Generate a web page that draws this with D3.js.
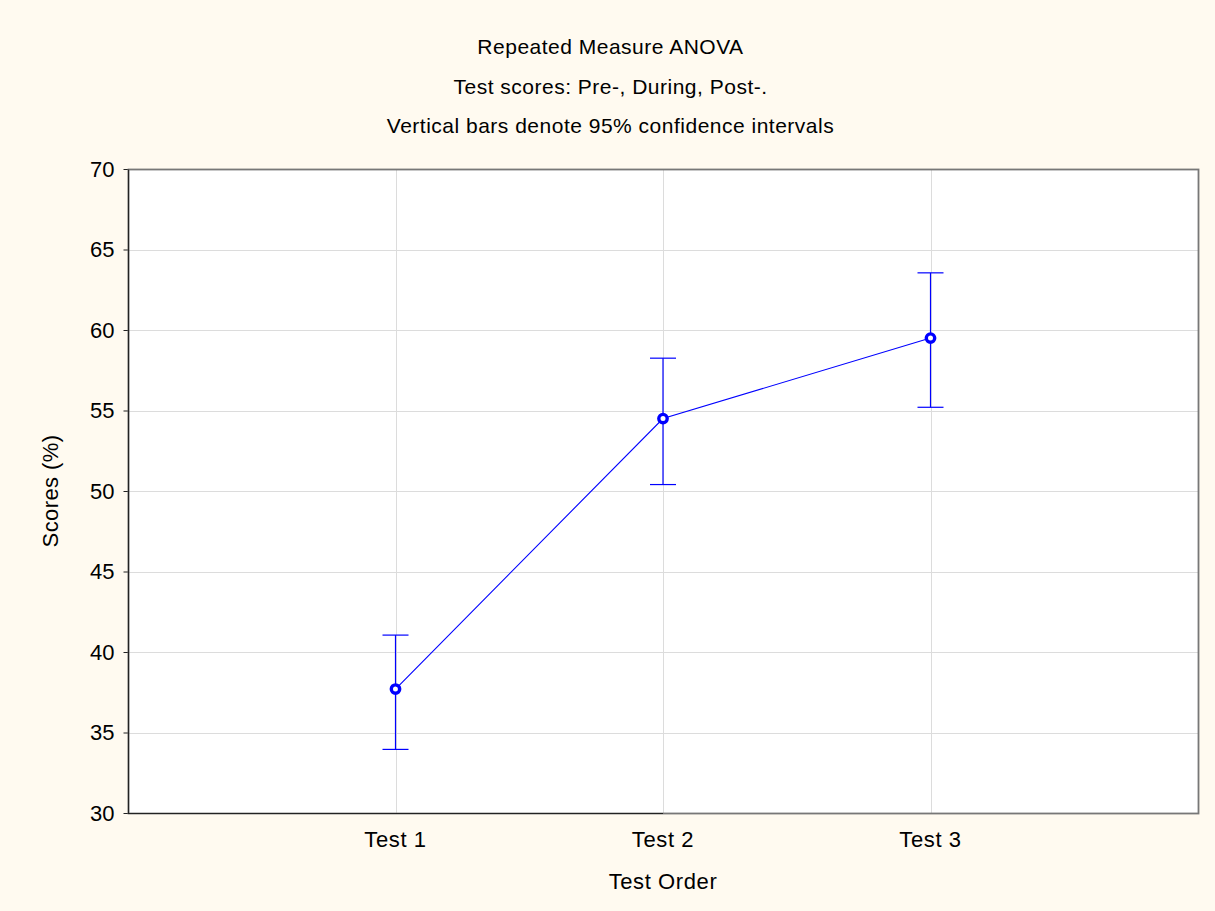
<!DOCTYPE html>
<html>
<head>
<meta charset="utf-8">
<script src="https://cdn.jsdelivr.net/npm/d3@7"></script>
<style>
  body { margin: 0; background: #fffaf0; }
  svg { display: block; }
</style>
</head>
<body>
<script>
// Chart data
const categories = ['Test 1', 'Test 2', 'Test 3'];
const means = [37.7, 54.5, 59.5];
const lowerCI = [33.95, 50.4, 55.2];
const upperCI = [41.05, 58.25, 63.55];
const yTicks = [30, 35, 40, 45, 50, 55, 60, 65, 70];
const titleLines = [
  'Repeated Measure ANOVA',
  'Test scores: Pre-, During, Post-.',
  'Vertical bars denote 95% confidence intervals'
];

const width = 1215, height = 911;
const margin = { top: 169, right: 17, bottom: 98, left: 128 };
const plotW = width - margin.left - margin.right;
const plotH = height - margin.top - margin.bottom;
const font = '"Liberation Sans", Arial, sans-serif';

const svg = d3.select('body').append('svg')
  .attr('width', width)
  .attr('height', height)
  .style('font-family', font);

svg.append('rect').attr('width', width).attr('height', height).attr('fill', '#fffaf0');

// Scales: categories sit at 1, 2, 3 on a 0..4 axis
const x = d3.scaleLinear().domain([0, 4]).range([0, plotW]);
const y = d3.scaleLinear().domain([30, 70]).range([plotH, 0]);

const g = svg.append('g').attr('transform', `translate(${margin.left},${margin.top})`);

g.append('rect').attr('width', plotW).attr('height', plotH).attr('fill', '#ffffff');

// Grid lines
g.append('g').selectAll('line').data(yTicks.slice(1, -1)).join('line')
  .attr('x1', 0).attr('x2', plotW)
  .attr('y1', d => Math.round(y(d)) + 0.5).attr('y2', d => Math.round(y(d)) + 0.5)
  .attr('stroke', '#dcdcdc');
g.append('g').selectAll('line').data(categories).join('line')
  .attr('x1', (d, i) => Math.round(x(i + 1)) + 0.5).attr('x2', (d, i) => Math.round(x(i + 1)) + 0.5)
  .attr('y1', 0).attr('y2', plotH)
  .attr('stroke', '#dcdcdc');

// Y axis
const yAxis = g.append('g').attr('transform', 'translate(0.5,0)')
  .call(d3.axisLeft(y).tickValues(yTicks).tickSize(5).tickPadding(9));
yAxis.select('.domain').remove();
yAxis.selectAll('line').attr('stroke', '#222');
yAxis.selectAll('text').attr('font-size', 22).attr('fill', '#000').attr('font-family', font);

// X axis labels
g.append('g').selectAll('text').data(categories).join('text')
  .attr('x', (d, i) => x(i + 1))
  .attr('y', plotH + 34)
  .attr('text-anchor', 'middle')
  .attr('font-size', 22)
  .attr('letter-spacing', 0.6)
  .text(d => d);

// Frame: gray top/right, dark left/bottom
g.append('rect').attr('x', 0.5).attr('y', 0.5).attr('width', plotW).attr('height', plotH)
  .attr('fill', 'none').attr('stroke', '#777').attr('stroke-width', 1.8);
g.append('path').attr('d', `M0.5,0.5V${plotH + 0.5}H${plotW / 2}`)
  .attr('fill', 'none').attr('stroke', '#222').attr('stroke-width', 1.2);

// Mean line
const line = d3.line().x((d, i) => x(i + 1)).y(d => y(d));
g.append('path').datum(means).attr('d', line)
  .attr('fill', 'none').attr('stroke', '#0000ff').attr('stroke-width', 1.1);

// Error bars
const capHalf = 13;
const eb = g.append('g').selectAll('g').data(means).join('g');
eb.append('line')
  .attr('x1', (d, i) => x(i + 1)).attr('x2', (d, i) => x(i + 1))
  .attr('y1', (d, i) => y(lowerCI[i])).attr('y2', (d, i) => y(upperCI[i]))
  .attr('stroke', '#0000ff').attr('stroke-width', 1.2);
eb.append('line')
  .attr('x1', (d, i) => x(i + 1) - capHalf).attr('x2', (d, i) => x(i + 1) + capHalf)
  .attr('y1', (d, i) => y(upperCI[i])).attr('y2', (d, i) => y(upperCI[i]))
  .attr('stroke', '#0000ff').attr('stroke-width', 1.2);
eb.append('line')
  .attr('x1', (d, i) => x(i + 1) - capHalf).attr('x2', (d, i) => x(i + 1) + capHalf)
  .attr('y1', (d, i) => y(lowerCI[i])).attr('y2', (d, i) => y(lowerCI[i]))
  .attr('stroke', '#0000ff').attr('stroke-width', 1.2);

// Mean markers
g.append('g').selectAll('circle').data(means).join('circle')
  .attr('cx', (d, i) => x(i + 1)).attr('cy', d => y(d))
  .attr('r', 4.2)
  .attr('fill', '#ffffff').attr('stroke', '#0000ff').attr('stroke-width', 3.4);

// Titles, centred on the whole picture
svg.append('g').selectAll('text').data(titleLines).join('text')
  .attr('x', width / 2 + 3)
  .attr('y', (d, i) => 54 + i * 39.5)
  .attr('text-anchor', 'middle')
  .attr('font-size', 21)
  .attr('letter-spacing', 0.5)
  .text(d => d);

// Axis titles
svg.append('text')
  .attr('x', margin.left + plotW / 2).attr('y', 889)
  .attr('text-anchor', 'middle').attr('font-size', 22)
  .attr('letter-spacing', 0.6)
  .text('Test Order');
svg.append('text')
  .attr('transform', `translate(58,${margin.top + plotH / 2}) rotate(-90)`)
  .attr('text-anchor', 'middle').attr('font-size', 22)
  .attr('letter-spacing', 0.4)
  .text('Scores (%)');
</script>
</body>
</html>
